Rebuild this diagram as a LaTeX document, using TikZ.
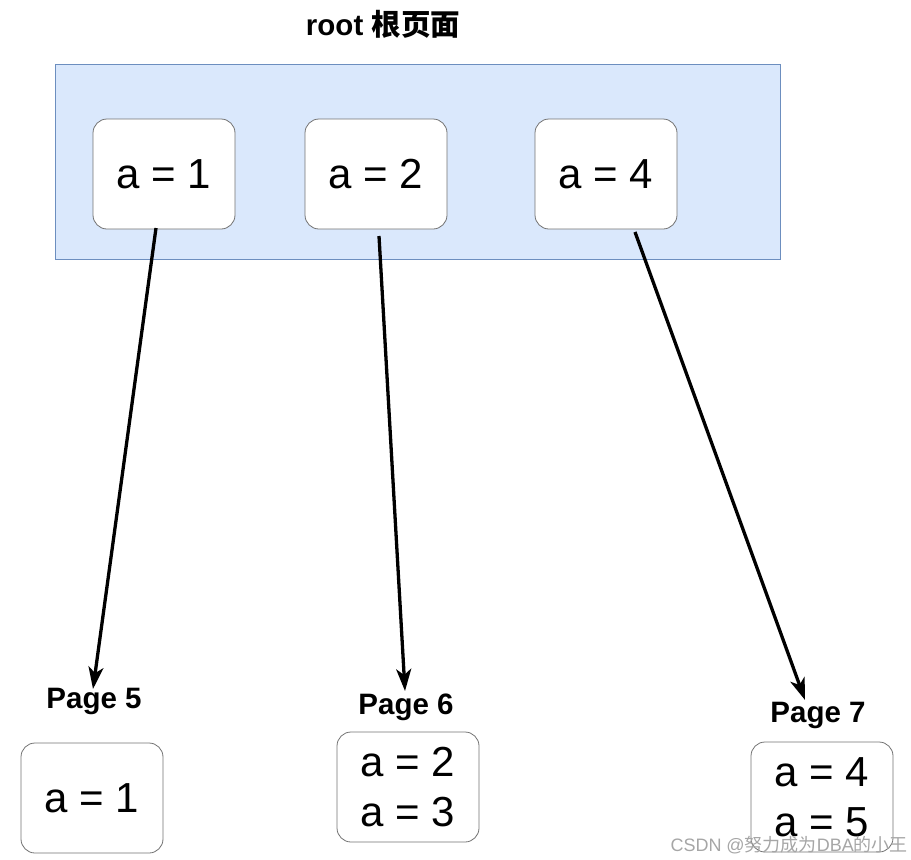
\documentclass[tikz,border=0pt]{standalone}
\usepackage{fontspec}
\setmainfont{Liberation Sans}
\newfontfamily\cjk{Noto Sans CJK SC}
\usetikzlibrary{arrows.meta}
\definecolor{rootfill}{HTML}{DAE8FC}
\definecolor{rootline}{HTML}{6C8EBF}
\tikzset{
  keybox/.style={draw=black!55, fill=white, rounded corners=14pt, minimum width=142pt, minimum height=110pt, inner sep=0pt, font=\fontsize{42}{50}\selectfont, align=center, line width=0.8pt},
  lbl/.style={font=\fontsize{29.5}{33}\selectfont\bfseries, inner sep=0pt},
  ptr/.style={line width=3.3pt, -{Stealth[length=22pt,width=15pt,inset=6pt]}},
}
\begin{document}
\begin{tikzpicture}[x=1pt,y=-1pt]
\useasboundingbox (0,0) rectangle (911,860);
\node[draw=rootline, fill=rootfill, minimum width=725pt, minimum height=195pt, inner sep=0pt, line width=0.8pt] (root) at (417.5,161.5) {};
\node[lbl] (title) at (383,24) {root {\cjk 根页面}};
\node[keybox] (k1) at (164,174) {a = 1};
\node[keybox] (k2) at (376,174) {a = 2};
\node[keybox] (k4) at (606,174) {a = 4};
\node[lbl] (p5l) at (94,701) {Page 5};
\node[lbl] (p6l) at (406,707) {Page 6};
\node[lbl] (p7l) at (818,715) {Page 7};
\node[keybox] (p5) at (92,798) {a = 1};
\node[keybox, font=\fontsize{42}{50}\selectfont] (p6) at (408,787) {a = 2\\a = 3};
\node[keybox, font=\fontsize{42}{50}\selectfont] (p7) at (822,797) {a = 4\\a = 5};
\coordinate (s1) at (156,228);
\coordinate (e1) at (93,689);
\coordinate (s2) at (379,236);
\coordinate (e2) at (405,691);
\coordinate (s3) at (635,232);
\coordinate (e3) at (805,700);
\draw[ptr] (s1) -- (e1);
\draw[ptr] (s2) -- (e2);
\draw[ptr] (s3) -- (e3);
\node[text=black!35, font=\fontsize{18}{20}\selectfont, anchor=east, inner sep=0pt] (wm) at (908,845) {CSDN @{\cjk 努力成为}DBA{\cjk 的小王}};
\end{tikzpicture}
\end{document}
